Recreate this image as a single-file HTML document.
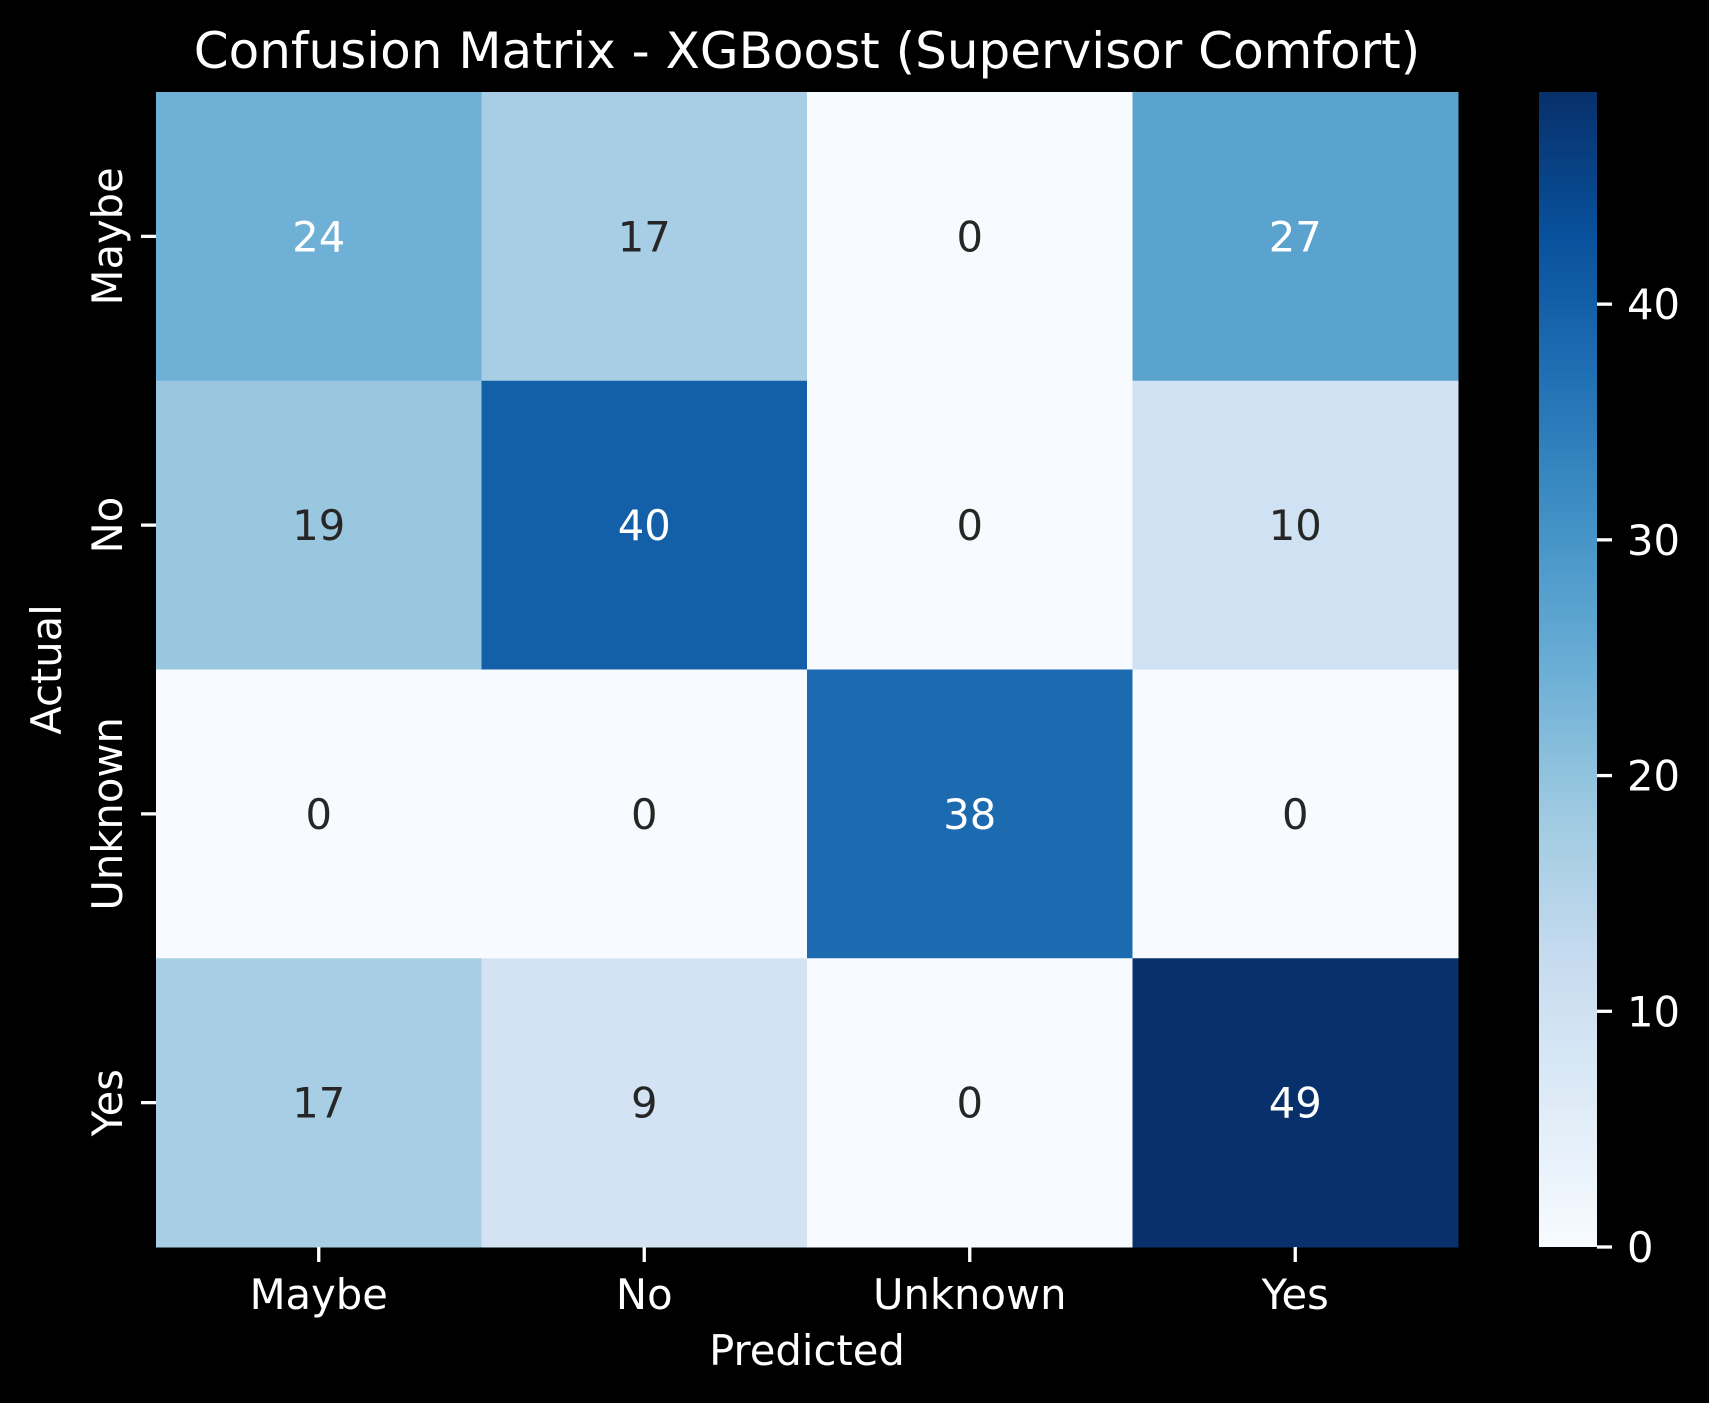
<!DOCTYPE html>
<html><head><meta charset="utf-8"><style>
html,body{margin:0;padding:0;background:#000;}
svg{display:block;font-family:"DejaVu Sans","Liberation Sans",sans-serif;}
</style></head><body>
<svg id="chart" width="1709" height="1403" viewBox="0 0 1709 1403" xmlns="http://www.w3.org/2000/svg">
<rect width="1709" height="1403" fill="#000"/>
<defs>
<linearGradient id="cbgrad" x1="0" y1="1" x2="0" y2="0">
<stop offset="0" stop-color="#f7fbff"/><stop offset="0.125" stop-color="#deebf7"/><stop offset="0.25" stop-color="#c6dbef"/><stop offset="0.375" stop-color="#9ecae1"/><stop offset="0.5" stop-color="#6baed6"/><stop offset="0.625" stop-color="#4292c6"/><stop offset="0.75" stop-color="#2171b5"/><stop offset="0.875" stop-color="#08519c"/><stop offset="1" stop-color="#08306b"/>
</linearGradient>
</defs>
<text x="807" y="68" fill="#fff" font-size="50" text-anchor="middle">Confusion Matrix - XGBoost (Supervisor Comfort)</text>
<g id="cells"></g>
<g id="axes"></g>
<text x="807" y="1365" fill="#fff" font-size="41.7" text-anchor="middle">Predicted</text>
<text transform="translate(61,669.5) rotate(-90)" fill="#fff" font-size="41.7" text-anchor="middle">Actual</text>
<rect x="1539" y="92" width="58" height="1155" fill="url(#cbgrad)"/>
<g id="cbticks"></g>
</svg>
<script>
const categories = ["Maybe","No","Unknown","Yes"];
const rowMaybe = [24,17,0,27];
const rowNo = [19,40,0,10];
const rowUnknown = [0,0,38,0];
const rowYes = [17,9,0,49];
const colorbarTicks = [0,10,20,30,40];
const vmin = 0, vmax = 49;

const matrix = [rowMaybe,rowNo,rowUnknown,rowYes];
const L=156,R=1458,T=92,B=1247;
const n=categories.length;
const cw=(R-L)/n, ch=(B-T)/n;
const xPos=i=>L+i*cw, yPos=i=>T+i*ch;
const cbY=v=>B-(v-vmin)/(vmax-vmin)*(B-T);
const blues=[[247,251,255],[222,235,247],[198,219,239],[158,202,225],[107,174,214],[66,146,198],[33,113,181],[8,81,156],[8,48,107]];
function cmap(v){
  let t=Math.max(0,Math.min(1,(v-vmin)/(vmax-vmin)))*(blues.length-1);
  let i=Math.min(Math.floor(t),blues.length-2), f=t-i;
  return blues[i].map((c,k)=>c+(blues[i+1][k]-c)*f);
}
function lum(rgb){
  const c=rgb.map(x=>{x/=255;return x<=0.03928?x/12.92:Math.pow((x+0.055)/1.055,2.4);});
  return 0.2126*c[0]+0.7152*c[1]+0.0722*c[2];
}
const NS="http://www.w3.org/2000/svg";
const cells=document.getElementById('cells');
const axes=document.getElementById('axes');
function mk(tag,attrs,parent){const e=document.createElementNS(NS,tag);for(const k in attrs)e.setAttribute(k,attrs[k]);parent.appendChild(e);return e;}
matrix.forEach((row,r)=>{
  row.forEach((v,c)=>{
    const rgb=cmap(v);
    const rect=mk('rect',{x:xPos(c),y:yPos(r),width:cw+0.5,height:ch+0.5,fill:`rgb(${rgb.map(Math.round).join(',')})`},cells);
    
    
    const t=mk('text',{x:xPos(c)+cw/2,y:yPos(r)+ch/2+15,'font-size':41.7,'text-anchor':'middle',fill:lum(rgb)>0.408?'#262626':'#ffffff'},cells);
    t.textContent=v;
    
    
  });
});
categories.forEach((cat,i)=>{
  const cx=xPos(i)+cw/2;
  mk('line',{x1:cx,y1:B,x2:cx,y2:B+15,stroke:'#fff','stroke-width':3.3},axes);
  const tx=mk('text',{x:cx,y:1309,'font-size':41.7,'text-anchor':'middle',fill:'#fff'},axes);
  tx.textContent=cat;
  
  
  const cy=yPos(i)+ch/2;
  mk('line',{x1:L-15,y1:cy,x2:L,y2:cy,stroke:'#fff','stroke-width':3.3},axes);
  const ty=mk('text',{transform:`translate(122,${cy}) rotate(-90)`,'font-size':41.7,'text-anchor':'middle',fill:'#fff'},axes);
  ty.textContent=cat;
  
  
});
const cbg=document.getElementById('cbticks');
colorbarTicks.forEach(v=>{
  const y=cbY(v);
  mk('line',{x1:1597,y1:y,x2:1612,y2:y,stroke:'#fff','stroke-width':3.3},cbg);
  const t=mk('text',{x:1627,y:y+15,'font-size':41.7,fill:'#fff'},cbg);
  t.textContent=v;
  
  
});
</script>
</body></html>
